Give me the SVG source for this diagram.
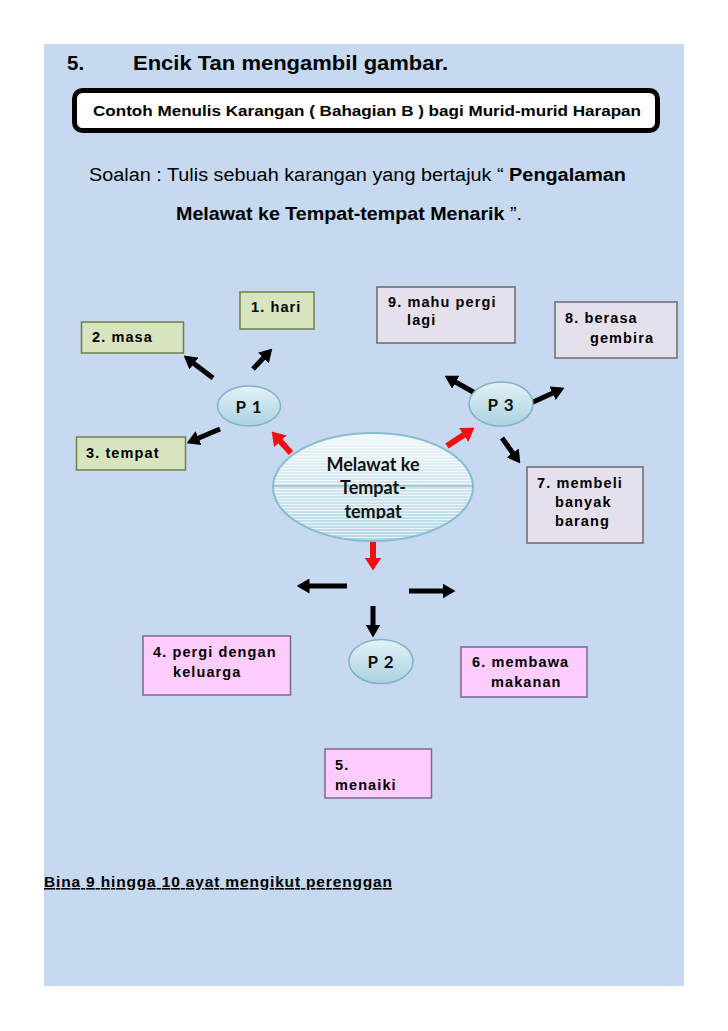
<svg xmlns="http://www.w3.org/2000/svg" width="728" height="1031" viewBox="0 0 728 1031">
<defs>
<style>
.hd{font-family:"Liberation Sans",Arial,sans-serif;font-weight:bold;fill:#000}
.rg{font-family:"Liberation Sans",Arial,sans-serif;fill:#000}
.lb{font-family:"Liberation Sans",Arial,sans-serif;font-weight:bold;font-size:14.5px;letter-spacing:1.1px;fill:#000}
.el{font-family:Lato,"Open Sans",sans-serif;font-weight:bold;fill:#111}
.gn{fill:#d7e4bd;stroke:#6e7f4a;stroke-width:1.5}
.gy{fill:#e6e0ec;stroke:#6a6a6a;stroke-width:1.5}
.pk{fill:#ffccff;stroke:#7a6a8a;stroke-width:1.5}
.sm{fill:url(#gs);stroke:#7fb2c8;stroke-width:1.5}
.blk{stroke:#000;stroke-width:5;fill:none;marker-end:url(#hb)}
.red{stroke:#f01010;stroke-width:6;fill:none;marker-end:url(#hr)}
</style>
<marker id="hb" markerUnits="userSpaceOnUse" markerWidth="13" markerHeight="15" viewBox="0 0 13 15" refX="1" refY="7.5" orient="auto"><path d="M0,0 L13,7.5 L0,15 z" fill="#000"/></marker>
<marker id="hr" markerUnits="userSpaceOnUse" markerWidth="13" markerHeight="17" viewBox="0 0 13 17" refX="1" refY="8.5" orient="auto"><path d="M0,0 L13,8.5 L0,17 z" fill="#f01010"/></marker>
<linearGradient id="gs" x1="0" y1="0" x2="0" y2="1"><stop offset="0" stop-color="#e4f2f7"/><stop offset="1" stop-color="#a9d2e1"/></linearGradient>
<linearGradient id="gc" x1="0" y1="0" x2="0" y2="1"><stop offset="0" stop-color="#eef7fa"/><stop offset="1" stop-color="#b3d8e6"/></linearGradient>
<pattern id="st" width="6" height="3" patternUnits="userSpaceOnUse"><rect width="6" height="3" fill="none"/><line x1="0" y1="0.5" x2="6" y2="0.5" stroke="#ffffff" stroke-opacity="0.7" stroke-width="1"/></pattern>
<clipPath id="ct"><rect x="273" y="433" width="200" height="86"/></clipPath>
</defs>
<rect x="0" y="0" width="728" height="1031" fill="#ffffff"/>
<rect x="44" y="44" width="640" height="942" fill="#c6d9f1"/>

<g id="title">
<text class="hd" x="67" y="70" font-size="20.5">5.</text>
<text class="hd" x="133" y="70" font-size="20.5" textLength="315" lengthAdjust="spacingAndGlyphs">Encik Tan mengambil gambar.</text>
</g>
<g id="banner">
<rect x="74.5" y="90.5" width="583" height="40" rx="8" fill="#ffffff" stroke="#000" stroke-width="5"/>
<text class="hd" x="93" y="116" font-size="15.5" textLength="548" lengthAdjust="spacingAndGlyphs">Contoh Menulis Karangan ( Bahagian B ) bagi Murid-murid Harapan</text>
</g>
<g id="question">
<text class="rg" x="89" y="181" font-size="18" textLength="537" lengthAdjust="spacingAndGlyphs">Soalan :  Tulis sebuah karangan yang bertajuk “ <tspan font-weight="bold">Pengalaman</tspan></text>
<text class="rg" x="176" y="220" font-size="18" textLength="346" lengthAdjust="spacingAndGlyphs"><tspan font-weight="bold">Melawat ke Tempat-tempat Menarik</tspan> ”.</text>
</g>

<g id="connectors">
<line class="blk" x1="213" y1="378" x2="193.2" y2="362.9"/>
<line class="blk" x1="253" y1="369" x2="264.1" y2="357.3"/>
<line class="blk" x1="220" y1="429" x2="197.6" y2="438.5"/>
<line class="red" x1="291" y1="453" x2="279.7" y2="440.5"/>
<line class="red" x1="447" y1="446" x2="464.4" y2="434.4"/>
<line class="red" x1="373" y1="541" x2="373" y2="558.5"/>
<line class="blk" x1="475" y1="393" x2="455" y2="381.7"/>
<line class="blk" x1="531" y1="403" x2="553.5" y2="392.8"/>
<line class="blk" x1="502" y1="438" x2="513.3" y2="453.7"/>
<line class="blk" x1="347" y1="586" x2="308.5" y2="586"/>
<line class="blk" x1="409" y1="591" x2="443.5" y2="591"/>
<line class="blk" x1="373" y1="606" x2="373" y2="625.5"/>
</g>

<g id="center">
<ellipse cx="373" cy="487" rx="100" ry="54" fill="url(#gc)"/>
<ellipse cx="373" cy="487" rx="100" ry="54" fill="url(#st)" stroke="#86bdd1" stroke-width="2"/>
<line x1="273" y1="486" x2="473" y2="486" stroke="#6f9fb3" stroke-width="1.2"/>
<text class="el" font-size="18" text-anchor="middle" clip-path="url(#ct)"><tspan x="373" y="471">Melawat ke</tspan><tspan x="373" y="494">Tempat-</tspan><tspan x="373" y="518">tempat</tspan></text>
</g>

<g id="p1">
<ellipse class="sm" cx="249" cy="406" rx="31.5" ry="20"/>
<text class="el" x="249" y="413" font-size="17" text-anchor="middle" letter-spacing="1">P 1</text>
</g>
<g id="p3">
<ellipse class="sm" cx="501" cy="404" rx="32" ry="22"/>
<text class="el" x="501" y="411" font-size="17" text-anchor="middle" letter-spacing="1">P 3</text>
</g>
<g id="p2">
<ellipse class="sm" cx="381" cy="661.5" rx="32" ry="22"/>
<text class="el" x="381" y="668" font-size="17" text-anchor="middle" letter-spacing="1">P 2</text>
</g>

<g id="n1">
<rect class="gn" x="240" y="292" width="74" height="37"/>
<text class="lb" x="251" y="312">1. hari</text>
</g>
<g id="n2">
<rect class="gn" x="81.5" y="322" width="102" height="31"/>
<text class="lb" x="92" y="342" letter-spacing="1.8">2. masa</text>
</g>
<g id="n3">
<rect class="gn" x="76.5" y="437" width="109" height="33"/>
<text class="lb" x="86" y="458">3. tempat</text>
</g>
<g id="n9">
<rect class="gy" x="377" y="287" width="138" height="56"/>
<text class="lb" x="388" y="307">9. mahu pergi</text>
<text class="lb" x="407" y="325">lagi</text>
</g>
<g id="n8">
<rect class="gy" x="555" y="302" width="122" height="56"/>
<text class="lb" x="565" y="323">8.  berasa</text>
<text class="lb" x="590" y="343">gembira</text>
</g>
<g id="n7">
<rect class="gy" x="527" y="467" width="116" height="76"/>
<text class="lb" x="537" y="488">7. membeli</text>
<text class="lb" x="555" y="507">banyak</text>
<text class="lb" x="555" y="526">barang</text>
</g>
<g id="n4">
<rect class="pk" x="143" y="636" width="147.5" height="59"/>
<text class="lb" x="153" y="657">4. pergi dengan</text>
<text class="lb" x="173" y="677">keluarga</text>
</g>
<g id="n6">
<rect class="pk" x="461" y="647" width="126" height="50"/>
<text class="lb" x="472" y="667">6. membawa</text>
<text class="lb" x="491" y="687">makanan</text>
</g>
<g id="n5">
<rect class="pk" x="325" y="749" width="106.5" height="49"/>
<text class="lb" x="335" y="770">5.</text>
<text class="lb" x="335" y="790">menaiki</text>
</g>

<g id="footer">
<text class="hd" x="44" y="887" font-size="15.5" text-decoration="underline" textLength="348" lengthAdjust="spacing">Bina 9 hingga 10 ayat mengikut perenggan</text>
</g>
</svg>
